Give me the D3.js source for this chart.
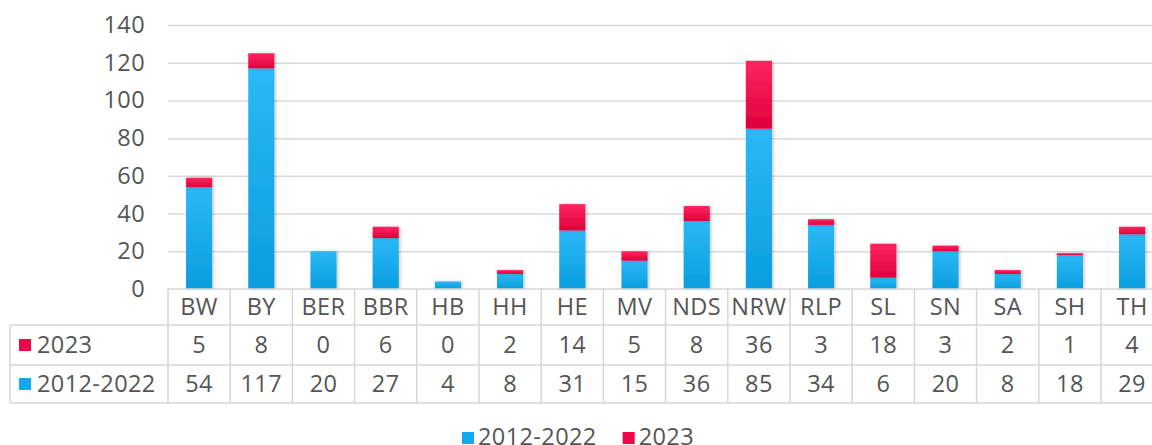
<!DOCTYPE html>
<html>
<head>
<meta charset="utf-8">
<script src="https://cdn.jsdelivr.net/npm/d3@7"></script>
<style>
  body { margin: 0; background: #fff; }
  text { font-family: "Open Sans", sans-serif; fill: #555; letter-spacing: 0.4px; }
</style>
</head>
<body>
<div id="chart"></div>
<script>
// Bundeslaender
var categories = ["BW", "BY", "BER", "BBR", "HB", "HH", "HE", "MV", "NDS", "NRW", "RLP", "SL", "SN", "SA", "SH", "TH"];
var values2012 = [54, 117, 20, 27, 4, 8, 31, 15, 36, 85, 34, 6, 20, 8, 18, 29];
var values2023 = [5, 8, 0, 6, 0, 2, 14, 5, 8, 36, 3, 18, 3, 2, 1, 4];
var seriesNames = ["2012-2022", "2023"];
var yTicks = [0, 20, 40, 60, 80, 100, 120, 140];

var width = 1152, height = 445;
var left = 168, plotTop = 25, plotBottom = 289;
var colW = 62.2;
var fs = 23.5;

var svg = d3.select("#chart").append("svg")
  .attr("width", width)
  .attr("height", height);

// gradients for the bars
var defs = svg.append("defs");
function grad(id, c1, c2) {
  var g = defs.append("linearGradient").attr("id", id)
    .attr("x1", 0).attr("y1", 0).attr("x2", 0).attr("y2", 1);
  g.append("stop").attr("offset", "0%").attr("stop-color", c1);
  g.append("stop").attr("offset", "100%").attr("stop-color", c2);
}
grad("gBlue", "#2bb8f6", "#0a9edf");
grad("gRed", "#ff2560", "#e0003c");
var shadow = defs.append("filter").attr("id", "shadow")
  .attr("x", "-30%").attr("y", "-10%").attr("width", "160%").attr("height", "120%");
shadow.append("feDropShadow").attr("dx", 1.5).attr("dy", 0).attr("stdDeviation", 1.5)
  .attr("flood-color", "#000").attr("flood-opacity", 0.22);

var x = d3.scaleBand()
  .domain(categories)
  .range([left, left + colW * categories.length])
  .paddingInner(0).paddingOuter(0);

var y = d3.scaleLinear()
  .domain([0, 140])
  .range([plotBottom, plotTop]);

// gridlines + y labels
var yAxis = svg.append("g")
  .attr("transform", "translate(" + left + ",0)")
  .call(d3.axisLeft(y).tickValues(yTicks).tickSize(-(width - left)).tickPadding(23));
yAxis.select(".domain").remove();
yAxis.selectAll(".tick line").attr("stroke", "#d9d9d9").attr("stroke-width", 1.5);
yAxis.selectAll(".tick text").style("font-size", fs + "px").attr("fill", "#555")
  .style("font-family", "'Open Sans', sans-serif");
yAxis.selectAll(".tick").filter(function(d) { return d === 0; }).select("line").remove();

// stacked bars
var table = categories.map(function(c, i) {
  return { cat: c, "2012-2022": values2012[i], "2023": values2023[i] };
});
var stack = d3.stack().keys(seriesNames)(table);
var fills = { "2012-2022": "url(#gBlue)", "2023": "url(#gRed)" };
var barW = colW * 0.42;

svg.append("g").selectAll("g")
  .data(stack)
  .join("g")
  .attr("fill", function(d) { return fills[d.key]; })
  .attr("filter", "url(#shadow)")
  .selectAll("rect")
  .data(function(d) { return d; })
  .join("rect")
  .attr("x", function(d) { return x(d.data.cat) + (colW - barW) / 2; })
  .attr("y", function(d) { return y(d[1]); })
  .attr("width", barW)
  .attr("height", function(d) { return y(d[0]) - y(d[1]); });

// data table
var rowTop = 289, rowH = [36, 40, 38];
var r1 = rowTop + rowH[0], r2 = r1 + rowH[1], r3 = r2 + rowH[2];
var tableLeft = 10;
var lines = svg.append("g").attr("stroke", "#d6d6d6").attr("stroke-width", 1.5);
var xEnd = left + colW * categories.length;
lines.append("line").attr("x1", left).attr("x2", xEnd).attr("y1", rowTop).attr("y2", rowTop);
[r1, r2, r3].forEach(function(yy) {
  lines.append("line").attr("x1", tableLeft).attr("x2", xEnd).attr("y1", yy).attr("y2", yy);
});
lines.append("line").attr("x1", tableLeft).attr("x2", tableLeft).attr("y1", r1).attr("y2", r3);
d3.range(categories.length + 1).forEach(function(i) {
  var xx = left + colW * i;
  lines.append("line").attr("x1", xx).attr("x2", xx).attr("y1", rowTop).attr("y2", r3);
});

var tg = svg.append("g").style("font-size", fs + "px").attr("text-anchor", "middle");
tg.selectAll(".cat").data(categories).join("text")
  .attr("x", function(d) { return x(d) + colW / 2; })
  .attr("y", rowTop + rowH[0] / 2)
  .attr("dy", "0.36em")
  .text(function(d) { return d; });
tg.selectAll(".v23").data(values2023).join("text")
  .attr("x", function(d, i) { return x(categories[i]) + colW / 2; })
  .attr("y", r1 + rowH[1] / 2)
  .attr("dy", "0.36em")
  .text(function(d) { return d; });
tg.selectAll(".v12").data(values2012).join("text")
  .attr("x", function(d, i) { return x(categories[i]) + colW / 2; })
  .attr("y", r2 + rowH[2] / 2)
  .attr("dy", "0.36em")
  .text(function(d) { return d; });

// row labels with keys
var rowLabels = [
  { name: "2023", color: "#f0064a", yc: r1 + rowH[1] / 2 },
  { name: "2012-2022", color: "#12aaee", yc: r2 + rowH[2] / 2 }
];
rowLabels.forEach(function(r) {
  svg.append("rect").attr("x", 19).attr("y", r.yc - 6).attr("width", 12).attr("height", 12).attr("fill", r.color);
  svg.append("text").attr("x", 37).attr("y", r.yc).attr("dy", "0.36em")
    .style("font-size", fs + "px").text(r.name);
});

// legend
var legend = [
  { name: "2012-2022", color: "#12aaee" },
  { name: "2023", color: "#f0064a" }
];
var lg = svg.append("g").attr("transform", "translate(462,0)");
var lx = 0;
legend.forEach(function(l) {
  lg.append("rect").attr("x", lx).attr("y", 432).attr("width", 12).attr("height", 12).attr("fill", l.color);
  var t = lg.append("text").attr("x", lx + 16).attr("y", 445).style("font-size", fs + "px").text(l.name);
  lx += 16 + t.node().getComputedTextLength() + 26;
});
</script>
</body>
</html>
